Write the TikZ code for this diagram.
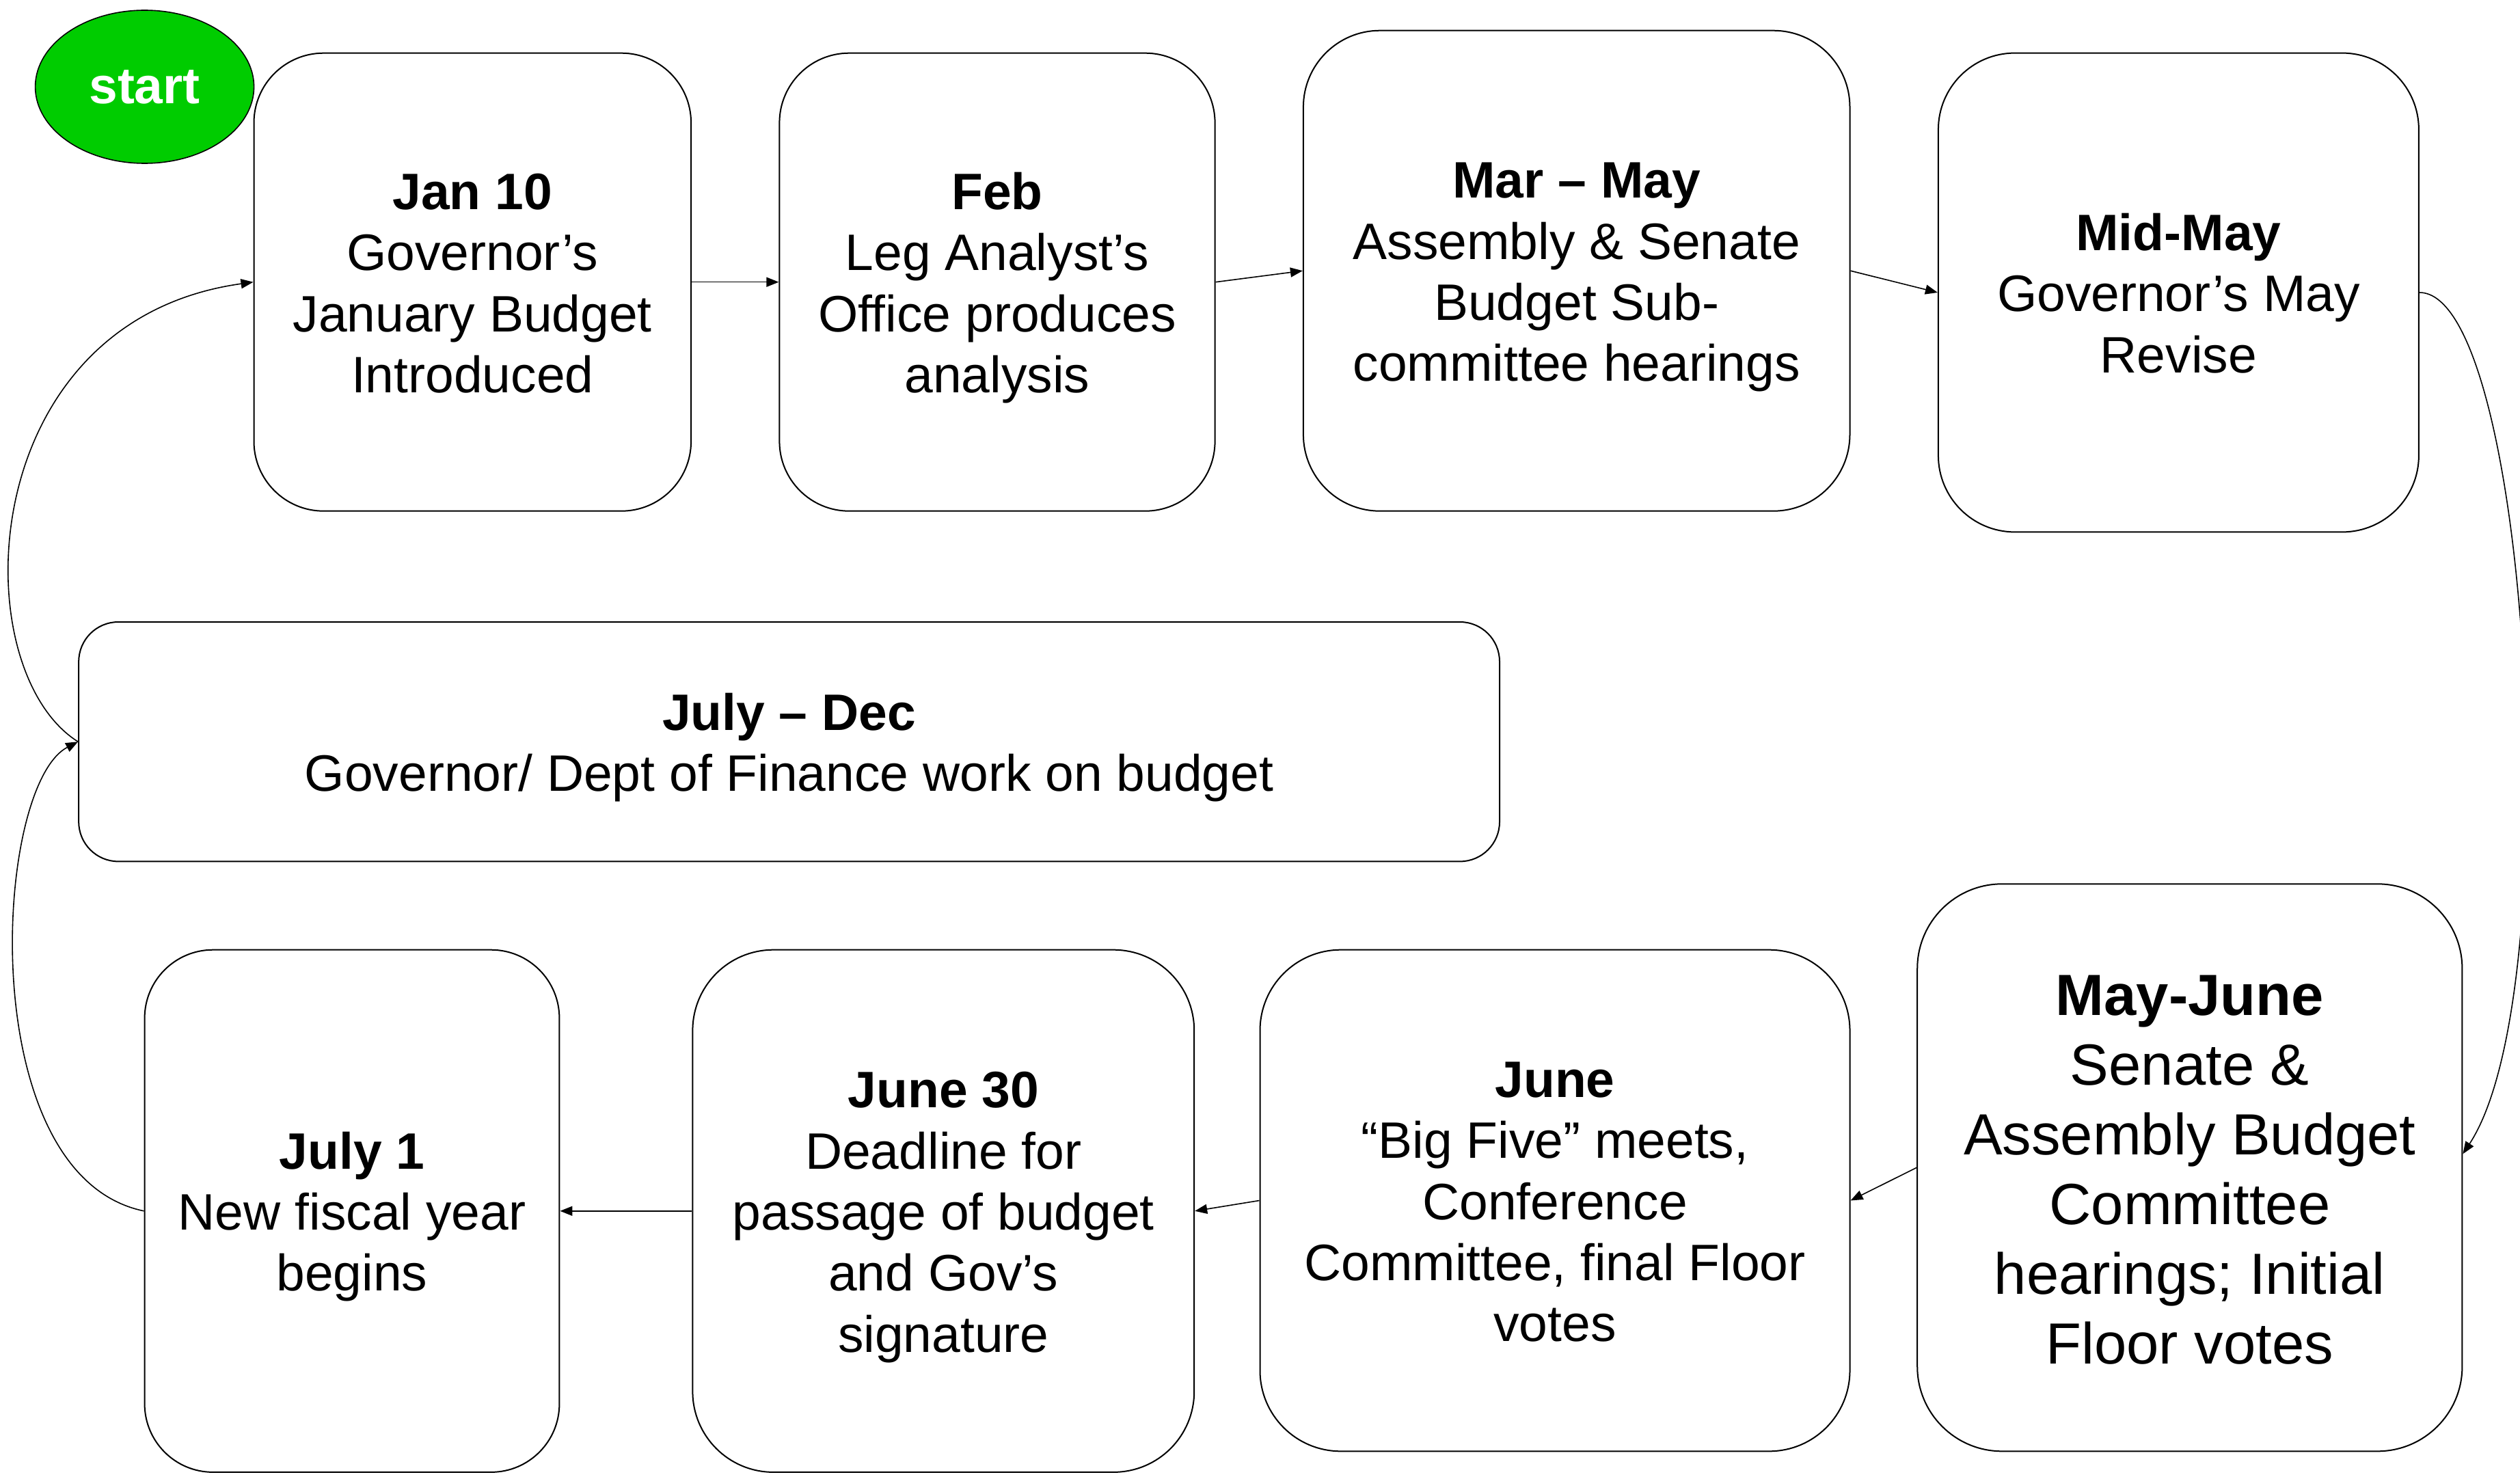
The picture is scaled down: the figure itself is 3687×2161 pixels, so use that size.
\documentclass[tikz,border=0pt]{standalone}
\usepackage{fontspec}
\setmainfont{Liberation Sans}
\usetikzlibrary{arrows.meta,shapes.geometric}
\definecolor{startgreen}{RGB}{0,204,0}
\newcommand{\bxline}[1]{\rule[-2.4pt]{0pt}{32.4pt}\smash{#1}}
\newcommand{\bgline}[1]{\rule[-2pt]{0pt}{36pt}\smash{#1}}
\begin{document}
\begin{tikzpicture}[x=0.5pt,y=-0.5pt,
  box/.style={draw=black, line width=1pt, align=center, inner sep=0pt,
    font=\fontsize{37.5}{44.7}\selectfont},
  bigbox/.style={box, font=\fontsize{42.5}{51}\selectfont},
  conn/.style={draw=black, line width=0.8pt, -{Triangle[length=9pt,width=7pt]}},
  startnode/.style={ellipse, draw=black, line width=0.8pt, fill=startgreen, inner sep=0pt,
    text=white, font=\bfseries\fontsize{37.5}{44.7}\selectfont}
]
\useasboundingbox (0,0) rectangle (3687,2161);

\node[box, rounded corners=51pt, minimum width=319.8pt, minimum height=335pt] (b1) at (691.3,412.7)
  {\bxline{\bfseries Jan 10}\\\bxline{Governor’s}\\\bxline{January Budget}\\\bxline{Introduced}};
\node[box, rounded corners=51pt, minimum width=318.6pt, minimum height=335pt] (b2) at (1459,412.7)
  {\bxline{\bfseries Feb}\\\bxline{Leg Analyst’s}\\\bxline{Office produces}\\\bxline{analysis}};
\node[box, rounded corners=56pt, minimum width=399.8pt, minimum height=351.5pt] (b3) at (2306.7,396.2)
  {\bxline{\bfseries Mar – May}\\\bxline{Assembly \& Senate}\\\bxline{Budget Sub-}\\\bxline{committee hearings}};
\node[box, rounded corners=56pt, minimum width=351.5pt, minimum height=350.4pt] (b4) at (3187.4,428)
  {\bxline{\bfseries Mid-May}\\\bxline{Governor’s May}\\\bxline{Revise}};
\node[box, rounded corners=29pt, minimum width=1039.4pt, minimum height=175.2pt] (b5) at (1154.6,1085.2)
  {\bxline{\bfseries July – Dec}\\\bxline{Governor/ Dept of Finance work on budget}};
\node[bigbox, rounded corners=62pt, minimum width=398.6pt, minimum height=415pt] (b6) at (3203.8,1708.3)
  {\bgline{\bfseries May-June}\\\bgline{Senate \&}\\\bgline{Assembly Budget}\\\bgline{Committee}\\\bgline{hearings; Initial}\\\bgline{Floor votes}};
\node[box, rounded corners=59pt, minimum width=431.5pt, minimum height=366.8pt] (b7) at (2275,1756.5)
  {\bxline{\bfseries June}\\\bxline{“Big Five” meets,}\\\bxline{Conference}\\\bxline{Committee, final Floor}\\\bxline{votes}};
\node[box, rounded corners=59pt, minimum width=366.9pt, minimum height=382.1pt] (b8) at (1380.3,1771.8)
  {\bxline{\bfseries June 30}\\\bxline{Deadline for}\\\bxline{passage of budget}\\\bxline{and Gov’s}\\\bxline{signature}};
\node[box, rounded corners=50pt, minimum width=303.4pt, minimum height=382.1pt] (b9) at (515,1771.8)
  {\bxline{\bfseries July 1}\\\bxline{New fiscal year}\\\bxline{begins}};

\node[startnode, minimum width=160pt, minimum height=112pt] (start) at (211.6,127) {start};

\coordinate (b6in) at ([yshift=10pt]b6.east);

\draw[conn] (b1.east) -- (b2.west);
\draw[conn] (b2.east) -- (b3.west);
\draw[conn] (b3.east) -- (b4.west);
\draw[conn] (b4.east) .. controls (3700,428) and (3760,1450) .. (b6in);
\draw[conn] (b6.west) -- (b7.east);
\draw[conn] (b7.west) -- (b8.east);
\draw[conn] (b8.west) -- (b9.east);
\draw[conn] (b9.west) .. controls (-40,1720) and (-10,1150) .. (b5.west);
\draw[conn] (b5.west) .. controls (-55,979) and (-40,470) .. (b1.west);
\end{tikzpicture}
\end{document}
